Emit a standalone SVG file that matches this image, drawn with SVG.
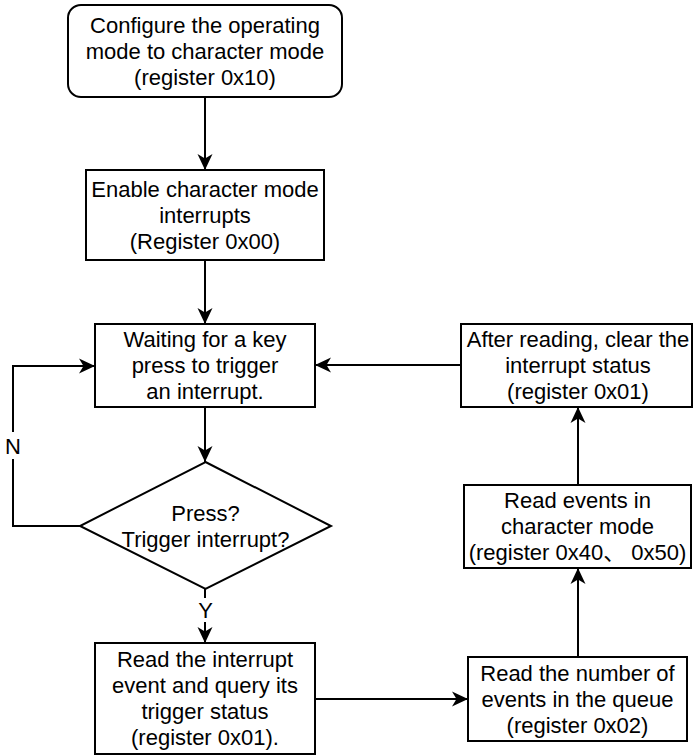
<svg xmlns="http://www.w3.org/2000/svg" width="693" height="755" viewBox="0 0 693 755">
  <style>
    .box { fill: #ffffff; stroke: #000000; stroke-width: 2; }
    .edge { fill: none; stroke: #000000; stroke-width: 2; }
    text { font-family: "Liberation Sans", Arial, "Noto Sans CJK SC", sans-serif; font-size: 22px; fill: #000000; text-anchor: middle; }
  </style>
  <defs>
    <marker id="arrow" markerUnits="userSpaceOnUse" viewBox="0 0 16 16" refX="16" refY="8" markerWidth="16" markerHeight="16" orient="auto">
      <path d="M16,8 L0,0.5 L4.5,8 L0,15.5 Z" fill="#000000"/>
    </marker>
  </defs>

  <rect width="693" height="755" fill="#ffffff"/>

  <!-- connectors -->
  <g id="connectors">
    <path class="edge" d="M205,97 L205,170" marker-end="url(#arrow)"/>
    <path class="edge" d="M205,260 L205,324" marker-end="url(#arrow)"/>
    <path class="edge" d="M205,407 L205,462" marker-end="url(#arrow)"/>
    <!-- N branch back to the waiting step -->
    <path class="edge" d="M80,526 L13,526 L13,459"/>
    <path class="edge" d="M13,432 L13,366 L95,366" marker-end="url(#arrow)"/>
    <text x="13" y="454">N</text>
    <!-- Y branch -->
    <path class="edge" d="M205,589 L205,598"/>
    <path class="edge" d="M205,622 L205,643" marker-end="url(#arrow)"/>
    <text x="205.5" y="618">Y</text>
    <path class="edge" d="M315,699 L468,699" marker-end="url(#arrow)"/>
    <path class="edge" d="M578,657 L578,568" marker-end="url(#arrow)"/>
    <path class="edge" d="M578,485 L578,407" marker-end="url(#arrow)"/>
    <path class="edge" d="M461,365 L315,365" marker-end="url(#arrow)"/>
  </g>

  <g id="node-configure">
    <rect class="box" x="68" y="5" width="274" height="92" rx="13" ry="13"/>
    <text x="205" y="33">Configure the operating</text>
    <text x="205" y="59">mode to character mode</text>
    <text x="205" y="85">(register 0x10)</text>
  </g>

  <g id="node-enable">
    <rect class="box" x="86" y="170" width="238" height="90"/>
    <text x="205" y="197">Enable character mode</text>
    <text x="205" y="223">interrupts</text>
    <text x="205" y="249">(Register 0x00)</text>
  </g>

  <g id="node-wait">
    <rect class="box" x="95" y="324" width="220" height="83"/>
    <text x="205" y="347">Waiting for a key</text>
    <text x="205" y="373">press to trigger</text>
    <text x="205" y="399">an interrupt.</text>
  </g>

  <g id="node-decision">
    <path class="box" d="M205.5,462 L331,526 L205.5,589 L80,526 Z"/>
    <text x="205.5" y="521">Press?</text>
    <text x="205.5" y="547">Trigger interrupt?</text>
  </g>

  <g id="node-read-interrupt">
    <rect class="box" x="95" y="643" width="220" height="111"/>
    <text x="205" y="667">Read the interrupt</text>
    <text x="205" y="693">event and query its</text>
    <text x="205" y="719">trigger status</text>
    <text x="205" y="745">(register 0x01).</text>
  </g>

  <g id="node-read-count">
    <rect class="box" x="468" y="657" width="219" height="84"/>
    <text x="577.5" y="681">Read the number of</text>
    <text x="577.5" y="707">events in the queue</text>
    <text x="577.5" y="733">(register 0x02)</text>
  </g>

  <g id="node-read-events">
    <rect class="box" x="464" y="485" width="227" height="83"/>
    <text x="577.5" y="508">Read events in</text>
    <text x="577.5" y="534">character mode</text>
    <text x="577.5" y="560">(register 0x40、 0x50)</text>
  </g>

  <g id="node-clear">
    <rect class="box" x="461" y="324" width="231" height="83"/>
    <text x="578" y="347">After reading, clear the</text>
    <text x="578" y="373">interrupt status</text>
    <text x="578" y="399">(register 0x01)</text>
  </g>
</svg>
